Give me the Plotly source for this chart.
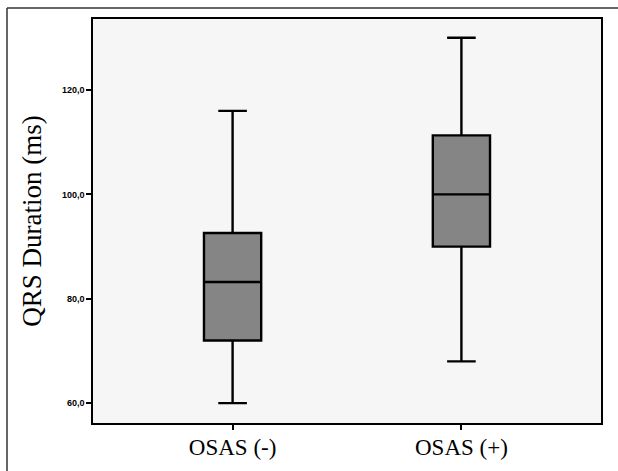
import plotly.graph_objects as go

categories = ["OSAS (-)", "OSAS (+)"]
lower_whisker = [60.0, 68.0]
q1_values = [72.0, 90.0]
median_values = [83.2, 100.0]
q3_values = [92.6, 111.3]
upper_whisker = [116.0, 130.0]
y_ticks = [60, 80, 100, 120]

fig = go.Figure()
fig.add_trace(go.Box(
    x=categories,
    q1=q1_values,
    median=median_values,
    q3=q3_values,
    lowerfence=lower_whisker,
    upperfence=upper_whisker,
    fillcolor="#858585",
    line=dict(color="black", width=2.4),
    whiskerwidth=0.5,
    width=0.25,
    boxpoints=False,
    showlegend=False,
    hoverinfo="skip",
))

W, H = 618, 471
L, R, T, B = 93, 17, 19, 48
pw, ph = W - L - R, H - T - B

fig.update_layout(
    width=W, height=H,
    margin=dict(l=L, r=R, t=T, b=B),
    paper_bgcolor="white",
    plot_bgcolor="#f6f6f6",
    separators=",.",
    xaxis=dict(
        type="category",
        range=[-0.61, 1.61],
        showline=True, linecolor="black", linewidth=1.5, mirror=True,
        showgrid=False, zeroline=False,
        ticks="outside", ticklen=5, tickcolor="black", tickwidth=1.5,
        ticklabelstandoff=-2,
        tickfont=dict(family="Liberation Serif", size=23, color="black"),
    ),
    yaxis=dict(
        range=[56.2, 133.6],
        tickvals=y_ticks,
        tickformat=".1f",
        showline=True, linecolor="black", linewidth=1.5, mirror=True,
        showgrid=False, zeroline=False,
        ticks="outside", ticklen=5, tickcolor="black", tickwidth=1.5,
        tickfont=dict(family="Liberation Sans", size=9, color="black", weight="bold"),
        title=dict(text="QRS Duration (ms)", font=dict(family="Liberation Serif", size=27, color="black"), standoff=12),
    ),
    shapes=[
        dict(type="line", xref="paper", yref="paper",
             x0=(7 - L) / pw, x1=(W + 5 - L) / pw, y0=(H - B - 8) / ph, y1=(H - B - 8) / ph,
             line=dict(color="#333", width=1.5)),
        dict(type="line", xref="paper", yref="paper",
             x0=(7 - L) / pw, x1=(7 - L) / pw, y0=(H - B - 8) / ph, y1=-(B + 10) / ph,
             line=dict(color="#333", width=1.5)),
    ],
)

fig.write_html("out.html", config={"displayModeBar": False},
               post_script="document.body.style.margin='0';document.body.style.overflow='hidden';")
